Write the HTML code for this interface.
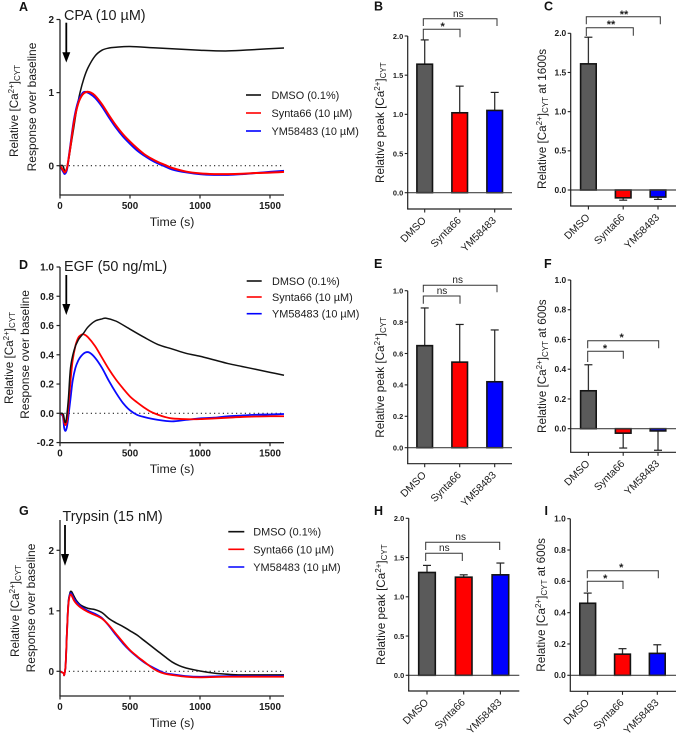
<!DOCTYPE html>
<html lang="en">
<head>
<meta charset="utf-8">
<title>Calcium response panels</title>
<style>
html,body{margin:0;padding:0;background:#fff;}
svg{display:block;font-family:"Liberation Sans",sans-serif;filter:blur(0.3px);}
text{fill:#1c1c1c;}
.letter{font-size:12.5px;font-weight:bold;fill:#111;}
.title{font-size:14.4px;}
.ylab{font-size:12px;text-anchor:middle;}
.yrel{font-size:11.7px;text-anchor:start;}
.xlab{font-size:12.3px;text-anchor:middle;}
.leg{font-size:10.9px;}
.sig{font-size:10px;text-anchor:middle;}
.star{font-size:11px;text-anchor:middle;font-weight:bold;}
.br{fill:none;stroke:#333;stroke-width:1;}
</style>
</head>
<body>
<svg id="figure" width="677" height="734" viewBox="0 0 677 734" xmlns="http://www.w3.org/2000/svg">
  <!-- Panel A -->
  <g id="panel-a">
    <text class="letter" x="19" y="11">A</text>
    <text class="title" x="64" y="20">CPA (10 µM)</text>
    <text class="yrel" transform="translate(18,157) rotate(-90)">Relative [Ca<tspan dy="-4" font-size="8">2+</tspan><tspan dy="4">]</tspan><tspan dy="2" font-size="8">CYT</tspan></text>
    <text class="ylab" transform="translate(36,107) rotate(-90)">Response over baseline</text>
    <text class="xlab" x="172" y="226">Time (s)</text>
    <g>
      <line x1="246" x2="261" y1="95" y2="95" stroke="#111" stroke-width="1.6"/>
      <text class="leg" x="271.5" y="99">DMSO (0.1%)</text>
      <line x1="246" x2="261" y1="113" y2="113" stroke="#f00" stroke-width="1.6"/>
      <text class="leg" x="271.5" y="117">Synta66 (10 µM)</text>
      <line x1="246" x2="261" y1="131" y2="131" stroke="#00f" stroke-width="1.6"/>
      <text class="leg" x="271.5" y="135">YM58483 (10 µM)</text>
    </g>
    <g>
      <line x1="66.3" x2="66.3" y1="22.7" y2="54" stroke="#000" stroke-width="1.8"/>
      <polygon points="62.3,52.3 70.3,52.3 66.3,62.5" fill="#000"/>
    </g>
  </g>
  <!-- Panel D -->
  <g id="panel-d">
    <text class="letter" x="19" y="269">D</text>
    <text class="title" x="64" y="271">EGF (50 ng/mL)</text>
    <text class="yrel" transform="translate(13,404) rotate(-90)">Relative [Ca<tspan dy="-4" font-size="8">2+</tspan><tspan dy="4">]</tspan><tspan dy="2" font-size="8">CYT</tspan></text>
    <text class="ylab" transform="translate(29,354.5) rotate(-90)">Response over baseline</text>
    <text class="xlab" x="172" y="473">Time (s)</text>
    <g>
      <line x1="246.7" x2="261.7" y1="281" y2="281" stroke="#111" stroke-width="1.6"/>
      <text class="leg" x="272" y="285">DMSO (0.1%)</text>
      <line x1="246.7" x2="261.7" y1="297" y2="297" stroke="#f00" stroke-width="1.6"/>
      <text class="leg" x="272" y="301">Synta66 (10 µM)</text>
      <line x1="246.7" x2="261.7" y1="313.7" y2="313.7" stroke="#00f" stroke-width="1.6"/>
      <text class="leg" x="272" y="317.7">YM58483 (10 µM)</text>
    </g>
    <g>
      <line x1="66.3" x2="66.3" y1="275" y2="306" stroke="#000" stroke-width="1.8"/>
      <polygon points="62.3,304 70.3,304 66.3,315" fill="#000"/>
    </g>
  </g>
  <!-- Panel G -->
  <g id="panel-g">
    <text class="letter" x="19" y="515">G</text>
    <text class="title" x="62.5" y="521">Trypsin (15 nM)</text>
    <text class="yrel" transform="translate(19,657) rotate(-90)">Relative [Ca<tspan dy="-4" font-size="8">2+</tspan><tspan dy="4">]</tspan><tspan dy="2" font-size="8">CYT</tspan></text>
    <text class="ylab" transform="translate(35,608) rotate(-90)">Response over baseline</text>
    <text class="xlab" x="172" y="727">Time (s)</text>
    <g>
      <line x1="228.3" x2="244.3" y1="531.7" y2="531.7" stroke="#111" stroke-width="1.6"/>
      <text class="leg" x="253.3" y="535.7">DMSO (0.1%)</text>
      <line x1="228.3" x2="244.3" y1="549.3" y2="549.3" stroke="#f00" stroke-width="1.6"/>
      <text class="leg" x="253.3" y="553.3">Synta66 (10 µM)</text>
      <line x1="228.3" x2="244.3" y1="567" y2="567" stroke="#00f" stroke-width="1.6"/>
      <text class="leg" x="253.3" y="571">YM58483 (10 µM)</text>
    </g>
    <g>
      <line x1="65" x2="65" y1="525" y2="556" stroke="#000" stroke-width="1.8"/>
      <polygon points="61,554 69,554 65,565.7" fill="#000"/>
    </g>
  </g>
  <!-- Panel B -->
  <g id="panel-b">
    <text class="letter" x="374" y="10.5">B</text>
    <text class="yrel" transform="translate(384,183) rotate(-90)">Relative peak [Ca<tspan dy="-4" font-size="8">2+</tspan><tspan dy="4">]</tspan><tspan dy="2" font-size="8">CYT</tspan></text>
    <path class="br" d="M423.3 40V29.3H460V37.3"/>
    <path class="br" d="M423.3 26V18.7H497V26"/>
    <text class="sig" x="458.3" y="17">ns</text>
    <text class="star" x="442.7" y="30">*</text>
  </g>
  <!-- Panel C -->
  <g id="panel-c">
    <text class="letter" x="544" y="10.5">C</text>
    <text class="yrel" transform="translate(546,189) rotate(-90)">Relative [Ca<tspan dy="-4" font-size="8">2+</tspan><tspan dy="4">]</tspan><tspan dy="2" font-size="8">CYT</tspan><tspan dy="-2"> at 1600s</tspan></text>
    <path class="br" d="M586.3 36V27.7H633.3V35.7"/>
    <path class="br" d="M586.3 24.3V16.7H660.3V24.3"/>
    <text class="star" x="624" y="18">**</text>
    <text class="star" x="611" y="28">**</text>
  </g>
  <!-- Panel E -->
  <g id="panel-e">
    <text class="letter" x="374" y="268">E</text>
    <text class="yrel" transform="translate(384,437.7) rotate(-90)">Relative peak [Ca<tspan dy="-4" font-size="8">2+</tspan><tspan dy="4">]</tspan><tspan dy="2" font-size="8">CYT</tspan></text>
    <path class="br" d="M423.3 303.7V296H460V303.7"/>
    <path class="br" d="M423.3 292.3V285.3H497V292.3"/>
    <text class="sig" x="457.7" y="283">ns</text>
    <text class="sig" x="442" y="294">ns</text>
  </g>
  <!-- Panel F -->
  <g id="panel-f">
    <text class="letter" x="544" y="268">F</text>
    <text class="yrel" transform="translate(546,433) rotate(-90)">Relative [Ca<tspan dy="-4" font-size="8">2+</tspan><tspan dy="4">]</tspan><tspan dy="2" font-size="8">CYT</tspan><tspan dy="-2"> at 600s</tspan></text>
    <path class="br" d="M587.7 362V351.3H623.3V358.7"/>
    <path class="br" d="M587.7 348.3V340.7H658.7V348.3"/>
    <text class="star" x="621.7" y="341">*</text>
    <text class="star" x="605" y="352">*</text>
  </g>
  <!-- Panel H -->
  <g id="panel-h">
    <text class="letter" x="374" y="515">H</text>
    <text class="yrel" transform="translate(385,665) rotate(-90)">Relative peak [Ca<tspan dy="-4" font-size="8">2+</tspan><tspan dy="4">]</tspan><tspan dy="2" font-size="8">CYT</tspan></text>
    <path class="br" d="M425.7 561V553.3H462.3V561"/>
    <path class="br" d="M425.7 550V542.3H499.7V550"/>
    <text class="sig" x="460.7" y="540">ns</text>
    <text class="sig" x="444.3" y="551">ns</text>
  </g>
  <!-- Panel I -->
  <g id="panel-i">
    <text class="letter" x="544.5" y="515">I</text>
    <text class="yrel" transform="translate(545,671.7) rotate(-90)">Relative [Ca<tspan dy="-4" font-size="8">2+</tspan><tspan dy="4">]</tspan><tspan dy="2" font-size="8">CYT</tspan><tspan dy="-2"> at 600s</tspan></text>
    <path class="br" d="M587.3 592V581.3H623V589"/>
    <path class="br" d="M587.3 578.3V570.7H658.3V578.3"/>
    <text class="star" x="621.3" y="571">*</text>
    <text class="star" x="605.3" y="582">*</text>
  </g>
</svg>
<script>
// Shared tick labels and categories
const timeTicks = [0, 500, 1000, 1500];
const categories = ['DMSO', 'Synta66', 'YM58483'];

// Panel A traces (time in s, relative response)
const aDmsoT = [0,20,35,50,60,80,100,120,143,170,200,250,300,350,400,500,700,1000,1200,1400,1600];
const aDmsoV = [0,0,-0.07,-0.03,0.06,0.3,0.54,0.78,1.0,1.19,1.34,1.5,1.58,1.61,1.62,1.63,1.61,1.58,1.57,1.59,1.61];
const aSyntaT = [0,25,35,50,70,100,130,160,190,220,250,300,350,400,450,500,550,600,650,700,750,800,900,1000,1100,1200,1300,1400,1500,1600];
const aSyntaV = [0,-0.07,-0.09,-0.03,0.2,0.6,0.85,0.97,1.01,1.0,0.96,0.84,0.69,0.55,0.43,0.33,0.24,0.16,0.1,0.05,0.01,-0.03,-0.08,-0.105,-0.115,-0.115,-0.11,-0.1,-0.095,-0.085];
const aYmT = [0,25,35,50,70,100,130,160,180,210,250,300,350,400,450,500,550,600,650,700,750,800,900,1000,1100,1200,1300,1400,1500,1600];
const aYmV = [0,-0.09,-0.11,-0.05,0.22,0.63,0.88,0.99,1.01,0.99,0.93,0.81,0.66,0.52,0.4,0.3,0.21,0.14,0.08,0.03,-0.01,-0.05,-0.09,-0.115,-0.125,-0.125,-0.115,-0.1,-0.085,-0.07];

// Panel D traces
const dDmsoT = [0,15,25,35,45,60,75,100,130,170,200,250,300,330,400,500,600,700,800,900,1000,1100,1200,1300,1400,1500,1600];
const dDmsoV = [0,0,-0.01,-0.06,-0.04,0.1,0.31,0.43,0.5,0.55,0.59,0.63,0.645,0.65,0.63,0.575,0.52,0.47,0.44,0.41,0.39,0.365,0.34,0.32,0.3,0.28,0.26];
const dSyntaT = [0,20,30,40,50,60,75,90,110,130,150,170,200,250,300,350,400,450,500,550,600,650,700,750,800,900,1000,1100,1200,1300,1400,1500,1600];
const dSyntaV = [0,-0.01,-0.06,-0.08,-0.05,0.05,0.22,0.36,0.46,0.515,0.535,0.54,0.52,0.46,0.38,0.3,0.23,0.17,0.115,0.075,0.04,0.01,-0.01,-0.025,-0.035,-0.04,-0.04,-0.035,-0.03,-0.025,-0.022,-0.02,-0.02];
const dYmT = [0,20,30,40,50,60,75,90,110,130,150,180,210,250,300,350,400,450,500,550,600,700,800,900,1000,1100,1200,1300,1400,1500,1600];
const dYmV = [0,-0.02,-0.1,-0.12,-0.09,-0.02,0.1,0.22,0.31,0.36,0.39,0.415,0.415,0.38,0.31,0.22,0.14,0.07,0.02,-0.01,-0.025,-0.045,-0.055,-0.045,-0.035,-0.03,-0.02,-0.015,-0.01,-0.008,-0.005];

// Panel G traces
const gDmsoT = [0,25,30,40,50,60,70,75,85,100,120,150,200,250,300,350,400,450,500,550,600,650,700,750,800,850,900,1000,1100,1200,1300,1600];
const gDmsoV = [0,-0.03,-0.06,0.1,0.7,1.15,1.28,1.32,1.31,1.24,1.16,1.09,1.04,1.02,0.97,0.87,0.8,0.74,0.67,0.6,0.51,0.42,0.33,0.24,0.155,0.095,0.055,0.005,-0.03,-0.05,-0.06,-0.06];
const gSyntaT = [0,25,30,40,50,60,75,100,120,150,200,250,300,350,400,450,500,550,600,650,700,750,800,900,1000,1200,1600];
const gSyntaV = [0,-0.03,-0.06,0.1,0.65,1.1,1.27,1.17,1.11,1.05,0.98,0.93,0.87,0.76,0.62,0.48,0.35,0.25,0.16,0.07,0,-0.04,-0.06,-0.09,-0.1,-0.09,-0.09];
const gYmT = [0,25,30,40,50,60,75,100,120,150,200,250,300,350,400,450,500,550,600,650,700,750,800,900,1000,1200,1600];
const gYmV = [0,-0.03,-0.06,0.1,0.66,1.12,1.29,1.2,1.14,1.07,1,0.95,0.88,0.75,0.6,0.46,0.34,0.24,0.15,0.08,0.02,-0.03,-0.05,-0.08,-0.09,-0.08,-0.08];

// Line panel y-axis tick labels
const aTicks = [0, 1, 2];
const dTicks = [-0.2, 0, 0.2, 0.4, 0.6, 0.8, 1];
const gTicks = [0, 1, 2];

// Bar panel values and error-bar ends
const bValues = [1.64, 1.02, 1.05];
const bErrors = [1.95, 1.36, 1.28];
const bTicks = [0, 0.5, 1, 1.5, 2];
const cValues = [1.61, -0.1, -0.09];
const cErrors = [1.95, -0.13, -0.12];
const cTicks = [0, 0.5, 1, 1.5, 2];
const eValues = [0.65, 0.545, 0.42];
const eErrors = [0.89, 0.785, 0.75];
const eTicks = [0, 0.2, 0.4, 0.6, 0.8, 1];
const fValues = [0.255, -0.03, -0.015];
const fErrors = [0.43, -0.13, -0.145];
const fTicks = [0, 0.2, 0.4, 0.6, 0.8, 1];
const hValues = [1.31, 1.25, 1.28];
const hErrors = [1.4, 1.28, 1.43];
const hTicks = [0, 0.5, 1, 1.5, 2];
const iValues = [0.46, 0.135, 0.14];
const iErrors = [0.525, 0.17, 0.195];
const iTicks = [0, 0.2, 0.4, 0.6, 0.8, 1];

const NS = 'http://www.w3.org/2000/svg';
const barColors = ['#5a5a5a', '#ff0000', '#0000ff'];

function make(parent, tag, attrs, name) {
  const el = document.createElementNS(NS, tag);
  for (const k in attrs) el.setAttribute(k, attrs[k]);
  
  
  parent.appendChild(el);
  return el;
}

function smoothPath(xs, ys) {
  let d = 'M' + xs[0].toFixed(2) + ' ' + ys[0].toFixed(2);
  for (let i = 0; i < xs.length - 1; i++) {
    const i0 = Math.max(0, i - 1), i3 = Math.min(xs.length - 1, i + 2);
    const c1x = xs[i] + (xs[i + 1] - xs[i0]) / 6, c1y = ys[i] + (ys[i + 1] - ys[i0]) / 6;
    const c2x = xs[i + 1] - (xs[i3] - xs[i]) / 6, c2y = ys[i + 1] - (ys[i3] - ys[i]) / 6;
    d += 'C' + c1x.toFixed(2) + ' ' + c1y.toFixed(2) + ' ' + c2x.toFixed(2) + ' ' + c2y.toFixed(2) + ' ' + xs[i + 1].toFixed(2) + ' ' + ys[i + 1].toFixed(2);
  }
  return d;
}

function lineChart(id, opt) {
  const g = document.getElementById(id);
  const x = t => opt.x0 + t * 0.14;
  const y = v => opt.yZero - v * opt.yUnit;
  make(g, 'line', {x1: opt.x0, x2: x(1600), y1: y(0), y2: y(0), stroke: '#222', 'stroke-width': 1.1, 'stroke-dasharray': '1.2 3.2'}, 'zero-reference-line');
  opt.series.forEach(s => {
    make(g, 'path', {d: smoothPath(s.t.map(x), s.v.map(y)), fill: 'none', stroke: s.color, 'stroke-width': s.w, 'stroke-linejoin': 'round'}, s.name);
  });
  make(g, 'line', {x1: opt.x0, x2: opt.x0, y1: opt.top, y2: opt.bottom, stroke: '#222', 'stroke-width': 1.3}, 'y-axis');
  make(g, 'line', {x1: opt.x0 - 0.6, x2: x(1600), y1: opt.bottom, y2: opt.bottom, stroke: '#222', 'stroke-width': 1.3}, 'x-axis');
  opt.ticks.forEach(v => {
    make(g, 'line', {x1: opt.x0 - 3.5, x2: opt.x0, y1: y(v), y2: y(v), stroke: '#222', 'stroke-width': 1.2}, 'y-tick');
    const tx = make(g, 'text', {x: opt.x0 - 6, y: y(v) + 3.6, 'text-anchor': 'end', 'font-size': 10, 'font-weight': 'bold'}, 'y-tick-label');
    tx.textContent = opt.fmt(v);
  });
  timeTicks.forEach(t => {
    make(g, 'line', {x1: x(t), x2: x(t), y1: opt.bottom, y2: opt.bottom + 3.5, stroke: '#222', 'stroke-width': 1.2}, 'x-tick');
    const tx = make(g, 'text', {x: x(t), y: opt.bottom + 14, 'text-anchor': 'middle', 'font-size': 9.8, 'font-weight': 'bold'}, 'x-tick-label');
    tx.textContent = t;
  });
}

function barChart(id, opt) {
  const g = document.getElementById(id);
  const y = v => opt.yZero - v * opt.yUnit;
  const cx = i => opt.c0 + i * opt.step;
  opt.values.forEach((v, i) => {
    const hw = opt.bw / 2;
    const e = opt.errors[i];
    make(g, 'line', {x1: cx(i), x2: cx(i), y1: y(v), y2: y(e), stroke: '#333', 'stroke-width': 1.3}, 'error-bar-' + categories[i].toLowerCase());
    make(g, 'line', {x1: cx(i) - 4, x2: cx(i) + 4, y1: y(e), y2: y(e), stroke: '#222', 'stroke-width': 1.2}, 'error-cap-' + categories[i].toLowerCase());
    make(g, 'rect', {x: cx(i) - hw, y: Math.min(y(v), y(0)), width: opt.bw, height: Math.abs(y(v) - y(0)), fill: barColors[i], stroke: '#141414', 'stroke-width': 1.6}, 'bar-' + categories[i].toLowerCase());
  });
  make(g, 'line', {x1: opt.x0, x2: opt.xEnd, y1: y(0), y2: y(0), stroke: '#444', 'stroke-width': 1.2}, 'zero-line');
  make(g, 'line', {x1: opt.x0, x2: opt.x0, y1: y(opt.ticks[opt.ticks.length - 1]), y2: opt.bottom, stroke: '#222', 'stroke-width': 1.2}, 'y-axis');
  make(g, 'line', {x1: opt.x0 - 0.6, x2: opt.xEnd, y1: opt.bottom, y2: opt.bottom, stroke: '#222', 'stroke-width': 1.2}, 'x-axis');
  opt.ticks.forEach(v => {
    make(g, 'line', {x1: opt.x0 - 3, x2: opt.x0, y1: y(v), y2: y(v), stroke: '#222', 'stroke-width': 1.1}, 'y-tick');
    const tx = make(g, 'text', {x: opt.x0 - 4.5, y: y(v) + 2.8, 'text-anchor': 'end', 'font-size': opt.tickSize, 'font-weight': 'bold'}, 'y-tick-label');
    tx.textContent = v.toFixed(1);
  });
  categories.forEach((c, i) => {
    make(g, 'line', {x1: cx(i), x2: cx(i), y1: opt.bottom, y2: opt.bottom + 3.5, stroke: '#222', 'stroke-width': 1.1}, 'x-tick');
    const tx = make(g, 'text', {transform: 'translate(' + (cx(i) + 2) + ',' + (opt.bottom + 12) + ') rotate(-45)', 'text-anchor': 'end', 'font-size': 10.4}, 'category-label');
    tx.textContent = c;
  });
}

const intFmt = v => String(v);
const oneFmt = v => v.toFixed(1);
const blk = '#111', red = '#ff0000', blu = '#0a0aff';

lineChart('panel-a', {x0: 60, yZero: 165.7, yUnit: 73.1, top: 19.5, bottom: 195, ticks: aTicks, fmt: intFmt, series: [
  {t: aDmsoT, v: aDmsoV, color: blk, w: 1.5, name: 'series-dmso'},
  {t: aYmT, v: aYmV, color: blu, w: 2, name: 'series-ym58483'},
  {t: aSyntaT, v: aSyntaV, color: red, w: 2, name: 'series-synta66'}
]});
lineChart('panel-d', {x0: 60, yZero: 413.3, yUnit: 146.3, top: 267, bottom: 442.7, ticks: dTicks, fmt: oneFmt, series: [
  {t: dYmT, v: dYmV, color: blu, w: 1.8, name: 'series-ym58483'},
  {t: dSyntaT, v: dSyntaV, color: red, w: 1.8, name: 'series-synta66'},
  {t: dDmsoT, v: dDmsoV, color: blk, w: 1.5, name: 'series-dmso'}
]});
lineChart('panel-g', {x0: 60, yZero: 671.3, yUnit: 60.5, top: 520, bottom: 696, ticks: gTicks, fmt: intFmt, series: [
  {t: gDmsoT, v: gDmsoV, color: blk, w: 1.6, name: 'series-dmso'},
  {t: gYmT, v: gYmV, color: blu, w: 1.8, name: 'series-ym58483'},
  {t: gSyntaT, v: gSyntaV, color: red, w: 1.8, name: 'series-synta66'}
]});

barChart('panel-b', {x0: 407.7, xEnd: 512, yZero: 192.7, yUnit: 78.35, bottom: 209, c0: 424.7, step: 35, bw: 15.6, tickSize: 7.4, values: bValues, errors: bErrors, ticks: bTicks});
barChart('panel-c', {x0: 570.7, xEnd: 676, yZero: 190, yUnit: 78.35, bottom: 206, c0: 588.4, step: 34.8, bw: 15.6, tickSize: 8.4, values: cValues, errors: cErrors, ticks: cTicks});
barChart('panel-e', {x0: 407.7, xEnd: 512, yZero: 447.7, yUnit: 157, bottom: 463.7, c0: 424.7, step: 35, bw: 15.6, tickSize: 7.4, values: eValues, errors: eErrors, ticks: eTicks});
barChart('panel-f', {x0: 570.7, xEnd: 676, yZero: 428.7, yUnit: 148.7, bottom: 452.3, c0: 588.4, step: 34.8, bw: 15.6, tickSize: 8.4, values: fValues, errors: fErrors, ticks: fTicks});
barChart('panel-h', {x0: 408.7, xEnd: 519.3, yZero: 675.3, yUnit: 78.5, bottom: 691, c0: 427, step: 36.7, bw: 16.6, tickSize: 7.4, values: hValues, errors: hErrors, ticks: hTicks});
barChart('panel-i', {x0: 570.3, xEnd: 676, yZero: 675.3, yUnit: 156.6, bottom: 691.3, c0: 587.7, step: 34.8, bw: 15.8, tickSize: 8.4, values: iValues, errors: iErrors, ticks: iTicks});
</script>
</body>
</html>
